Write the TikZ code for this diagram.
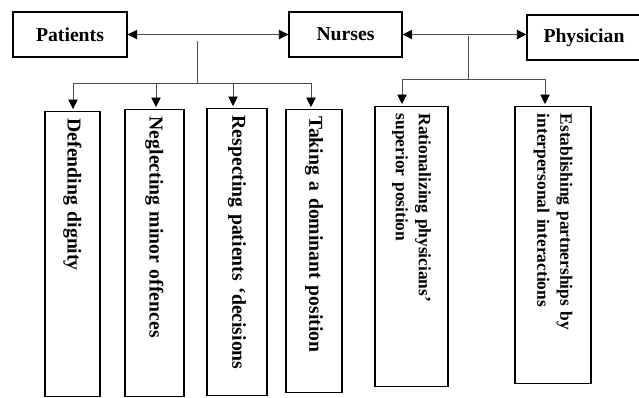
\documentclass[tikz,border=0pt]{standalone}
\usepackage{fontspec}
\setmainfont{Liberation Serif}
\usepackage{tikz}
\usetikzlibrary{arrows.meta}

\tikzset{
	head/.style={draw, line width=1.4pt, inner sep=0pt, font=\fontsize{19.7}{23}\selectfont\bfseries},
	leaf/.style={draw, line width=1.4pt, rotate=-90, anchor=west, align=left, inner xsep=7pt, inner ysep=0pt, font=\fontsize{19.7}{23}\selectfont\bfseries},
	leafsmall/.style={leaf, font=\fontsize{17.4}{23}\selectfont\bfseries},
	link/.style={line width=0.9pt, black!70},
	arr/.style={link, -{Triangle[length=9.5pt,width=9.5pt,color=black]}, shorten >=2pt},
	biarr/.style={link, {Triangle[length=9.5pt,width=9.5pt,color=black]}-{Triangle[length=9.5pt,width=9.5pt,color=black]}}
}

\begin{document}
\begin{tikzpicture}[x=1pt, y=-1pt]
	\useasboundingbox (0, 0) rectangle (639, 397);
	\node [head, minimum width=114, minimum height=45] (Pat) at (70, 34.5) {Patients};
	\node [head, minimum width=113, minimum height=45] (Nur) at (345.5, 34.5) {Nurses};
	\node [head, minimum width=114, minimum height=45] (Phy) at (584, 37.5) {Physician};
	\draw [biarr] (Pat) -- (Nur);
	\draw [biarr] (Nur.east) -- (Nur.east -| Phy.west);
	\node [leaf, minimum width=285, minimum height=55, text width=271] (L1) at (72.5, 111) {Defending dignity};
	\node [leaf, minimum width=287, minimum height=59, text width=273] (L2) at (154.5, 109) {Neglecting minor offences};
	\node [leaf, minimum width=287, minimum height=60, text width=273] (L3) at (237, 108) {Respecting patients `decisions};
	\node [leaf, minimum width=283, minimum height=56, text width=269] (L4) at (314, 109) {Taking a dominant position};
	\node [leafsmall, minimum width=280, minimum height=73, text width=266] (R1) at (411.5, 106) {Rationalizing physicians'\\superior position};
	\node [leafsmall, minimum width=277, minimum height=76, text width=263] (R2) at (553, 106) {Establishing partnerships by\\interpersonal interactions};
	\coordinate (Top_L) at (197, 41);
	\coordinate (Bus_L) at (197, 83);
	\coordinate (B1) at (73, 83);
	\coordinate (B2) at (156, 83);
	\coordinate (B3) at (233, 83);
	\coordinate (B4) at (311, 83);
	\draw [link] (Top_L) -- (Bus_L);
	\draw [link] (B1) -- (B4);
	\draw [arr] (B1) -- (B1 |- L1.west);
	\draw [arr] (B2) -- (B2 |- L2.west);
	\draw [arr] (B3) -- (B3 |- L3.west);
	\draw [arr] (B4) -- (B4 |- L4.west);
	\coordinate (Top_R) at (468, 36);
	\coordinate (Bus_R) at (468, 79);
	\coordinate (C1) at (402, 79);
	\coordinate (C2) at (545, 79);
	\draw [link] (Top_R) -- (Bus_R);
	\draw [link] (C1) -- (C2);
	\draw [arr] (C1) -- (C1 |- R1.west);
	\draw [arr] (C2) -- (C2 |- R2.west);
\end{tikzpicture}
\end{document}
